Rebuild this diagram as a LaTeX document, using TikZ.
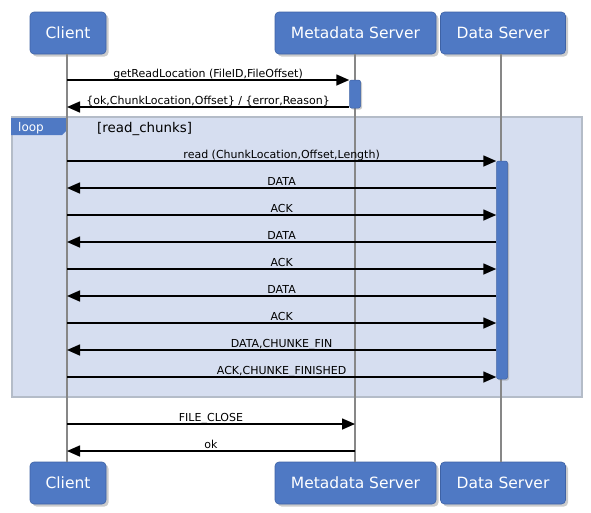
\documentclass[tikz,border=0pt]{standalone}
\usepackage{fontspec}
\setmainfont{DejaVu Sans}
\usetikzlibrary{arrows.meta,shadows,calc}
\definecolor{actor}{RGB}{79,121,196}
\definecolor{actoredge}{RGB}{62,98,165}
\definecolor{loopbg}{RGB}{214,222,240}
\definecolor{loopedge}{RGB}{180,188,200}
\definecolor{life}{RGB}{135,135,135}
\begin{document}
\begin{tikzpicture}[x=1pt,y=-1pt,
  actorbox/.style={fill=actor, draw=actoredge, line width=0.6pt, rounded corners=4pt,
    text=white, font=\fontsize{15.5}{18}\selectfont, minimum height=42pt, inner sep=0pt,
    drop shadow={shadow xshift=2.5pt, shadow yshift=-2.5pt, opacity=0.4}},
  actbar/.style={fill=actor, draw=actoredge, line width=0.5pt, rounded corners=2pt,
    drop shadow={shadow xshift=1.5pt, shadow yshift=-1.5pt, opacity=0.4}},
  msg/.style={line width=1.6pt, -{Triangle[length=13pt,width=11pt]}},
  lbl/.style={font=\fontsize{11}{13}\selectfont, anchor=base, inner sep=0pt, yshift=3pt},
  lifeline/.style={draw=life, line width=1.5pt},
]
\useasboundingbox (0,0) rectangle (591,512);

% loop frame
\path[fill=loopbg, draw=loopedge, line width=1.8pt] (12,117) rectangle (582,397);
\path[fill=actor] (11,118) -- (67,118) -- (67,130) -- (62,135) -- (11,135) -- cycle;
\node[anchor=base west, text=white, font=\fontsize{12}{14}\selectfont, inner sep=0pt] (looplbl) at (18,131) {loop};
\node[anchor=base west, font=\fontsize{13.4}{15}\selectfont, inner sep=0pt] (guard) at (97,132) {[read\_chunks]};

% actors
\node[actorbox, minimum width=76pt] (ct) at (68,33) {Client};
\node[actorbox, minimum width=161pt] (mt) at (355.5,33) {Metadata Server};
\node[actorbox, minimum width=125pt] (dt) at (503,33) {Data Server};
\node[actorbox, minimum width=76pt] (cb) at (68,483) {Client};
\node[actorbox, minimum width=161pt] (mb) at (355.5,483) {Metadata Server};
\node[actorbox, minimum width=125pt] (db) at (503,483) {Data Server};

% lifelines
\coordinate (cl) at (67,54);
\coordinate (ml) at (355,54);
\coordinate (dl) at (501,54);
\draw[lifeline] (cl) -- (cl |- cb.north);
\draw[lifeline] (ml) -- (ml |- mb.north);
\draw[lifeline] (dl) -- (dl |- db.north);

% activations
\node[actbar, minimum width=11pt, minimum height=28pt, inner sep=0pt] (ma) at (355,94) {};
\node[actbar, minimum width=11pt, minimum height=218pt, inner sep=0pt] (da) at (502,270) {};

% messages
\foreach \n/\y in {1/80,2/107,3/161,4/188,5/215,6/242,7/269,8/296,9/323,10/350,11/377,12/424,13/451}{
  \coordinate (c\n) at (67,\y);
}
\draw[msg] (c1) -- (c1 -| ma.west) node[lbl, midway] {getReadLocation (FileID,FileOffset)};
\draw[msg] (c2 -| ma.west) -- (c2) node[lbl, midway] {\{ok,ChunkLocation,Offset\} / \{error,Reason\}};
\draw[msg] (c3) -- (c3 -| da.west) node[lbl, midway] {read (ChunkLocation,Offset,Length)};
\draw[msg] (c4 -| da.west) -- (c4) node[lbl, midway] {DATA};
\draw[msg] (c5) -- (c5 -| da.west) node[lbl, midway] {ACK};
\draw[msg] (c6 -| da.west) -- (c6) node[lbl, midway] {DATA};
\draw[msg] (c7) -- (c7 -| da.west) node[lbl, midway] {ACK};
\draw[msg] (c8 -| da.west) -- (c8) node[lbl, midway] {DATA};
\draw[msg] (c9) -- (c9 -| da.west) node[lbl, midway] {ACK};
\draw[msg] (c10 -| da.west) -- (c10) node[lbl, midway] {DATA,CHUNKE\_FIN};
\draw[msg] (c11) -- (c11 -| da.west) node[lbl, midway] {ACK,CHUNKE\_FINISHED};
\draw[msg] (c12) -- (c12 -| ml) node[lbl, midway] {FILE\_CLOSE};
\draw[msg] (c13 -| ml) -- (c13) node[lbl, midway] {ok};
\end{tikzpicture}
\end{document}
